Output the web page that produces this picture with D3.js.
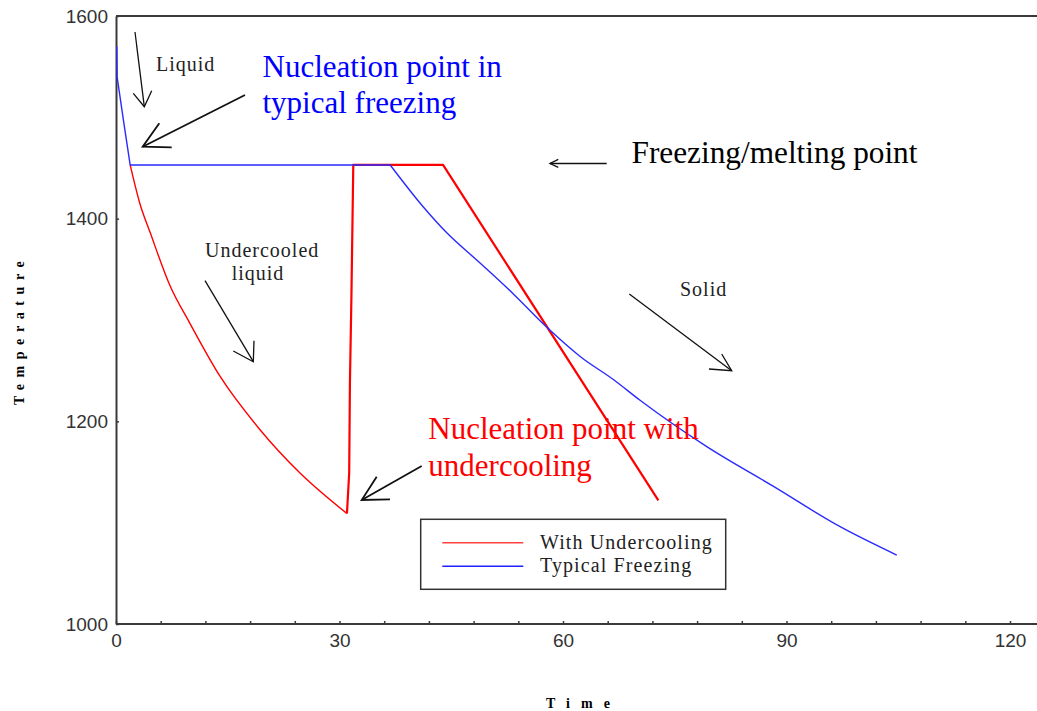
<!DOCTYPE html>
<html>
<head>
<meta charset="utf-8">
<script src="https://cdn.jsdelivr.net/npm/d3@7"></script>
<style>
  html, body { margin: 0; padding: 0; background: #fff; }
  svg { display: block; }
</style>
</head>
<body>
<div id="container"></div>
<script>
//### DATA ###
//>>> Typical freezing (blue): time and temperature
const timeTypical = [0.1, 0.15, 1.0, 1.9, 36.8, 41.2, 44.4, 48.9, 53.3, 57.8, 62.3, 66.8, 70.3, 79.3, 88.2, 97.2, 104.8];
const tempTypical = [1570, 1540, 1497, 1453, 1453, 1412, 1386, 1356, 1326, 1293, 1264, 1241, 1221, 1175, 1136, 1096, 1068];

//>>> With undercooling (red)
const timeUnder = [1.9, 3.2, 4.6, 7.3, 9.9, 14.0, 19.3, 24.7, 31.0, 31.3, 31.4, 31.6, 31.85, 43.9, 72.8];
const tempUnder = [1453, 1415, 1386, 1333, 1297, 1244, 1192, 1149, 1109, 1149, 1238, 1323, 1453, 1453, 1122];

//>>> Axis ticks
const xTickValues = d3.range(0, 124, 6);
const xTickLabels = [0, 30, 60, 90, 120];
const yTickValues = [1000, 1200, 1400, 1600];

const legendLabels = ['With Undercooling', 'Typical Freezing'];

//### LAYOUT ###
const width = 1037;
const height = 711;
const margin = { left: 116, top: 16, bottom: 87 };
const axisColor = '#3a3a3a';
const serif = '"Liberation Serif", "Times New Roman", serif';
const sans = '"Liberation Sans", Arial, sans-serif';

const svg = d3.select('#container')
  .append('svg')
  .attr('width', width)
  .attr('height', height);

//_____ SCALES _____
const x = d3.scaleLinear().domain([0, 120]).range([margin.left, 1010]);
const y = d3.scaleLinear().domain([1000, 1600]).range([height - margin.bottom, margin.top]);

//_____ AXES _____
const xAxis = svg.append('g')
  .attr('transform', `translate(0, ${y(1000)})`)
  .call(d3.axisBottom(x)
    .tickValues(xTickValues)
    .tickSizeInner(-3)
    .tickSizeOuter(0)
    .tickPadding(10)
    .tickFormat(d => xTickLabels.includes(d) ? d : ''));

xAxis.select('.domain')
  .attr('d', `M${margin.left},0H${width}`)
  .attr('stroke', axisColor)
  .attr('stroke-width', 2);
xAxis.selectAll('.tick line').attr('stroke', axisColor).attr('stroke-width', 1.5);
xAxis.selectAll('.tick text')
  .attr('fill', '#333')
  .style('font-family', sans)
  .style('font-size', '19px');

const yAxis = svg.append('g')
  .attr('transform', `translate(${margin.left}, 0)`)
  .call(d3.axisLeft(y)
    .tickValues(yTickValues)
    .tickFormat(d3.format('d'))
    .tickSizeInner(-3)
    .tickSizeOuter(0)
    .tickPadding(8));

yAxis.select('.domain').attr('stroke', axisColor).attr('stroke-width', 2);
yAxis.selectAll('.tick line').attr('stroke', axisColor).attr('stroke-width', 1.5);
yAxis.selectAll('.tick text')
  .attr('fill', '#333')
  .style('font-family', sans)
  .style('font-size', '19px');

//>>> Top frame line
svg.append('line')
  .attr('x1', margin.left).attr('x2', width)
  .attr('y1', y(1600)).attr('y2', y(1600))
  .attr('stroke', axisColor)
  .attr('stroke-width', 2);

//_____ AXIS TITLES _____
svg.append('text')
  .attr('transform', `translate(24, 405) rotate(-90)`)
  .text('Temperature')
  .style('font-family', serif)
  .style('font-weight', 'bold')
  .style('font-size', '14px')
  .style('letter-spacing', '6.6px');

svg.append('text')
  .attr('x', 546)
  .attr('y', 708)
  .text('Time')
  .style('font-family', serif)
  .style('font-weight', 'bold')
  .style('font-size', '14px')
  .style('letter-spacing', '11px');

//_____ LINES _____
const line = d3.line().x(d => x(d[0])).y(d => y(d[1]));
const smooth = d3.line().x(d => x(d[0])).y(d => y(d[1])).curve(d3.curveMonotoneX);
const underPts = d3.zip(timeUnder, tempUnder);
const typicalPts = d3.zip(timeTypical, tempTypical);

function drawLine(pts, gen, color, w) {
  svg.append('path')
    .datum(pts)
    .attr('d', gen)
    .attr('fill', 'none')
    .attr('stroke', color)
    .attr('stroke-width', w)
    .attr('stroke-linejoin', 'round');
}

//>>> Red: undercooled liquid (smooth), then recalescence, plateau, solid
drawLine(underPts.slice(0, 9), smooth, '#ff0000', 1.4);
drawLine(underPts.slice(8), line, '#ff0000', 2.2);

//>>> Blue: liquid, plateau, then cooling of the solid
drawLine(typicalPts.slice(0, 5), line, '#2a2aff', 1.4);
drawLine(typicalPts.slice(4), smooth, '#2a2aff', 1.4);

//_____ ANNOTATIONS _____
function arrow(x1, y1, x2, y2, head1, head2, w) {
  const g = svg.append('g')
    .attr('stroke', '#111')
    .attr('stroke-width', w || 1.3)
    .attr('fill', 'none');
  g.append('line').attr('x1', x1).attr('y1', y1).attr('x2', x2).attr('y2', y2);
  g.append('polyline').attr('points', `${head1[0]},${head1[1]} ${x2},${y2} ${head2[0]},${head2[1]}`);
}

arrow(135, 32, 144.3, 106.7, [133.3, 93.3], [151.7, 90.7]);
arrow(245, 95, 142.7, 146.7, [159.3, 123.3], [171.7, 147.3], 1.8);
arrow(205, 280.7, 253.3, 361.7, [233.3, 351], [254, 340.7]);
arrow(421.7, 466, 361.7, 500, [376.7, 476.7], [390, 499.3], 1.8);
arrow(606.7, 163.5, 550, 163.5, [558.3, 159.3], [558.3, 167.3]);
arrow(629.3, 294, 731.7, 370.7, [721.7, 354], [709, 369]);

function label(txt, lx, ly, size, color, spacing) {
  svg.append('text')
    .attr('x', lx)
    .attr('y', ly)
    .text(txt)
    .attr('fill', color)
    .style('font-family', serif)
    .style('font-size', size + 'px')
    .style('letter-spacing', (spacing || 0) + 'px');
}

label('Liquid', 156, 71, 20, '#222', 1);
label('Undercooled', 205, 256.7, 20, '#222', 1);
label('liquid', 231.7, 280, 20, '#222', 1);
label('Solid', 680, 296, 20, '#222', 1);

label('Nucleation point in', 262.5, 76.7, 31, '#0000ff');
label('typical freezing', 262.5, 112.7, 31, '#0000ff');
label('Freezing/melting point', 631.5, 163.3, 31.3, '#000');
label('Nucleation point with', 428.3, 439.3, 31, '#ff0000');
label('undercooling', 428.3, 476, 31, '#ff0000');

//_____ LEGEND _____
const legend = svg.append('g').attr('id', 'legend');
legend.append('rect')
  .attr('x', 420.7).attr('y', 519.3)
  .attr('width', 305).attr('height', 70)
  .attr('fill', '#fff')
  .attr('stroke', '#333')
  .attr('stroke-width', 1.5);

const legendColors = ['#ff4040', '#2020ff'];
const legendItem = legend.selectAll('.legend-item')
  .data(legendLabels)
  .enter()
  .append('g')
  .attr('class', 'legend-item')
  .attr('transform', (d, i) => `translate(0, ${542.7 + i * 23.5})`);

legendItem.append('line')
  .attr('x1', 442.3).attr('x2', 523.3)
  .attr('stroke', (d, i) => legendColors[i])
  .attr('stroke-width', 1.5);

legendItem.append('text')
  .attr('x', 540)
  .attr('y', 5.8)
  .text(d => d)
  .attr('fill', '#222')
  .style('font-family', serif)
  .style('font-size', '20px')
  .style('letter-spacing', '1.1px');
</script>
</body>
</html>
